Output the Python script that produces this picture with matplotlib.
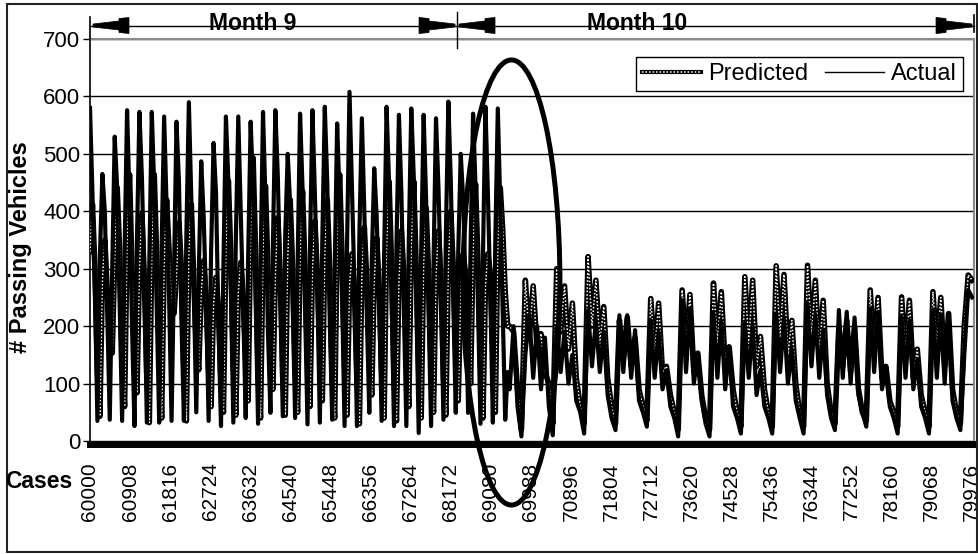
import numpy as np
import matplotlib.pyplot as plt
from matplotlib.patches import Ellipse, Polygon, Rectangle
from matplotlib.lines import Line2D
from matplotlib.legend_handler import HandlerTuple

plt.rcParams['font.family'] = ['Liberation Sans', 'DejaVu Sans']

# month 9 section: one row per cycle -> (peak, shoulder, fall, trough, rise)
m9_actual = [
    [580, 430, 260, 35, 320], [465, 400, 220, 37, 300], [530, 440, 240, 35, 330],
    [576, 420, 200, 26, 350], [573, 460, 280, 32, 310], [573, 440, 230, 32, 340],
    [565, 410, 250, 35, 300], [556, 450, 210, 35, 360], [590, 420, 270, 50, 290],
    [487, 390, 240, 35, 330], [519, 430, 200, 26, 310], [565, 450, 260, 32, 350],
    [565, 400, 230, 40, 320], [556, 440, 250, 30, 300], [573, 420, 190, 49, 340],
    [576, 460, 270, 43, 360], [500, 410, 240, 40, 310], [570, 440, 230, 29, 330],
    [576, 430, 260, 32, 350], [582, 450, 210, 37, 300], [553, 420, 250, 26, 340],
    [608, 440, 270, 26, 360], [562, 400, 220, 49, 310], [475, 390, 240, 35, 320],
    [582, 450, 260, 26, 340], [568, 430, 230, 26, 350], [579, 460, 250, 14, 330],
    [568, 420, 220, 26, 310], [562, 440, 270, 37, 360], [591, 450, 240, 49, 330],
    [500, 420, 260, 49, 340], [570, 440, 230, 30, 320], [582, 430, 250, 32, 350],
    [579, 410, 220, 37, 120],
]
m9_predicted = [
    [330, 412, 300, 120, 43], [280, 350, 260, 170, 153], [320, 441, 330, 140, 60],
    [350, 464, 300, 150, 84], [300, 395, 280, 110, 32], [330, 464, 320, 160, 40],
    [310, 420, 330, 240, 222], [290, 380, 300, 120, 35], [330, 412, 280, 160, 124],
    [260, 314, 250, 120, 60], [240, 285, 230, 100, 50], [340, 453, 320, 130, 45],
    [260, 311, 250, 140, 70], [370, 493, 330, 120, 40], [330, 444, 300, 150, 90],
    [290, 389, 280, 110, 45], [320, 420, 300, 120, 50], [320, 435, 300, 140, 60],
    [300, 383, 290, 150, 70], [330, 420, 300, 110, 40], [350, 464, 320, 130, 45],
    [270, 326, 260, 110, 30], [290, 372, 280, 150, 80], [280, 354, 270, 120, 40],
    [340, 452, 310, 110, 35], [280, 366, 290, 140, 60], [340, 452, 300, 120, 40],
    [310, 406, 290, 130, 50], [290, 366, 280, 110, 45], [310, 400, 300, 150, 70],
    [260, 326, 290, 180, 100], [330, 447, 310, 140, 40], [270, 326, 290, 150, 50],
    [340, 441, 367, 260, 200],
]
m9_start, m9_step = 60000, 56

# month 10 section: lead-in, daily cycles (trough ... low), then the last partial day
m10_actual = [
    [90, 200, 60],
    [8, 150, 220, 110, 200, 90, 180, 60], [10, 200, 120, 190, 100, 150, 70, 50],
    [13, 228, 130, 210, 120, 190, 80, 40], [19, 219, 120, 219, 110, 193, 70, 50],
    [25, 210, 110, 190, 90, 123, 60, 40], [8, 245, 120, 230, 100, 153, 70, 30],
    [8, 222, 110, 210, 90, 164, 60, 40], [13, 205, 110, 200, 80, 124, 60, 40],
    [13, 222, 120, 215, 100, 160, 70, 40], [13, 240, 130, 220, 110, 193, 80, 40],
    [19, 228, 110, 225, 100, 215, 80, 50], [25, 231, 120, 225, 90, 130, 60, 40],
    [13, 216, 110, 210, 90, 141, 60, 40], [13, 228, 110, 220, 100, 222, 70, 40],
    [19, 150, 263, 250],
]
m10_predicted = [
    [200, 190, 90],
    [20, 280, 180, 270, 160, 187, 120, 100], [30, 300, 190, 270, 160, 240, 110, 60],
    [30, 321, 200, 280, 170, 234, 110, 60], [30, 210, 140, 215, 130, 180, 90, 60],
    [35, 248, 150, 240, 120, 130, 80, 50], [20, 263, 160, 255, 120, 153, 80, 40],
    [20, 275, 170, 260, 130, 164, 90, 50], [25, 286, 170, 280, 130, 182, 90, 50],
    [25, 305, 180, 290, 150, 210, 100, 50], [25, 306, 180, 280, 150, 245, 100, 50],
    [30, 200, 130, 210, 120, 200, 90, 50], [35, 263, 150, 250, 110, 130, 70, 50],
    [25, 251, 150, 245, 110, 160, 80, 50], [25, 260, 160, 250, 130, 222, 90, 50],
    [30, 200, 289, 280],
]
m10_start, m10_step = 69509, 88.8

tick_cases = [60000, 60908, 61816, 62724, 63632, 64540, 65448, 66356, 67264, 68172,
              69080, 69988, 70896, 71804, 72712, 73620, 74528, 75436, 76344, 77252,
              78160, 79068, 79976]
month_edges = [60000, 68316, 80030]
month_labels = ['Month 9', 'Month 10']
month_label_cases = [63680, 72400]

actual = np.concatenate([np.ravel(m9_actual), np.concatenate(m10_actual)])
predicted = np.concatenate([np.ravel(m9_predicted), np.concatenate(m10_predicted)])
n9 = len(np.ravel(m9_actual))
n10 = len(np.concatenate(m10_actual))
cases = np.concatenate([m9_start + m9_step * np.arange(n9),
                        m10_start + m10_step * np.arange(n10)])

W, H = 979, 554
fig = plt.figure(figsize=(W / 100, H / 100), dpi=100)
ax = fig.add_axes([90 / W, 1 - 441 / H, 884 / W, 402 / H])

pred_style = dict(color='white', lw=1.1, ls=(0, (1, 1.3)))
ax.plot(cases, predicted, color='black', lw=4.0, zorder=3)
ax.plot(cases, predicted, zorder=4, **pred_style)
ax.plot(cases, actual, color='black', lw=3.0, zorder=5)

ax.set_xlim(month_edges[0], month_edges[-1])
ax.set_ylim(0, 700)
ax.set_yticks(range(0, 701, 100))
ax.set_xticks(tick_cases)
ax.set_xticklabels([str(c) for c in tick_cases])
ax.tick_params(axis='x', length=0, pad=13, labelrotation=90, labelsize=15)
ax.tick_params(axis='y', direction='out', length=5, width=1, pad=2, labelsize=16)

ax.set_axisbelow(True)
ax.yaxis.grid(True, color='black', lw=1.0)
ax.spines['top'].set_color('#8a8a8a')
ax.spines['top'].set_linewidth(1.5)
ax.spines['right'].set_color('#8a8a8a')
ax.spines['right'].set_linewidth(1.5)
ax.spines['left'].set_linewidth(1.2)
ax.spines['bottom'].set_linewidth(5)
ax.spines['bottom'].set_position(('outward', 2.5))

ax.set_ylabel('# Passing Vehicles', fontsize=17, fontweight='bold')
ax.yaxis.set_label_coords(-0.066, 0.483)

# highlight of the change-over between the two months
ax.add_patch(Ellipse((69550, 276), width=2195, height=775, fill=False,
                     ec='black', lw=3.6, clip_on=False, zorder=10))

h_pred = (Line2D([], [], color='black', lw=3.0), Line2D([], [], **pred_style))
h_act = Line2D([], [], color='black', lw=1.0)
leg = ax.legend([h_pred, h_act], ['Predicted', 'Actual'],
                handler_map={tuple: HandlerTuple(ndivide=1, pad=0)},
                ncol=2, loc='upper right', bbox_to_anchor=(0.9876, 0.955),
                fontsize=17, fancybox=False, edgecolor='black', framealpha=1,
                handlelength=2.5, columnspacing=0.7, handletextpad=0.3,
                borderpad=0.25, borderaxespad=0)
leg.get_frame().set_linewidth(1.0)
leg.set_zorder(8)

# overlay in pixel units for the month bracket, frame and axis caption
ov = fig.add_axes([0, 0, 1, 1], zorder=6)
ov.set_xlim(0, W)
ov.set_ylim(H, 0)
ov.axis('off')


def to_px(x):
    d = ax.transData.transform((x, 0))
    return ov.transData.inverted().transform(d)[0]


edge_px = [to_px(e) for e in month_edges]
edge_px[-1] = min(edge_px[-1], 974)
by = 25.5
ov.plot([edge_px[0], edge_px[-1]], [by, by], color='black', lw=1.0)
ov.plot([edge_px[0], edge_px[0]], [17, 39], color='black', lw=1.2)
ov.plot([edge_px[1], edge_px[1]], [12, 48], color='black', lw=1.0)
ov.plot([edge_px[2], edge_px[2]], [15, 32], color='black', lw=1.2)

head = [(0, 1.5), (26, 4.5), (26, 7), (36, 8), (36, -8), (26, -7), (26, -4.5), (0, -1.5)]


def bracket_head(tip, inward):
    pts = [(tip + inward * dx, by + dy) for dx, dy in head]
    ov.add_patch(Polygon(pts, closed=True, fc='black', ec='black', lw=0.5))


bracket_head(edge_px[0] + 3, 1)
bracket_head(edge_px[1] - 2, -1)
bracket_head(edge_px[1] + 2, 1)
bracket_head(edge_px[2] - 2, -1)

for lab, c in zip(month_labels, month_label_cases):
    ov.text(to_px(c), 24, lab, ha='center', va='center', fontsize=16.5,
            fontweight='bold', zorder=1)

ov.text(72, 482, 'Cases', ha='right', va='center', fontsize=16.5, fontweight='bold')
ov.add_patch(Rectangle((7, 4), 970, 548, fill=False, ec='#222222', lw=1.5))

fig.savefig('out.png', dpi=100)
